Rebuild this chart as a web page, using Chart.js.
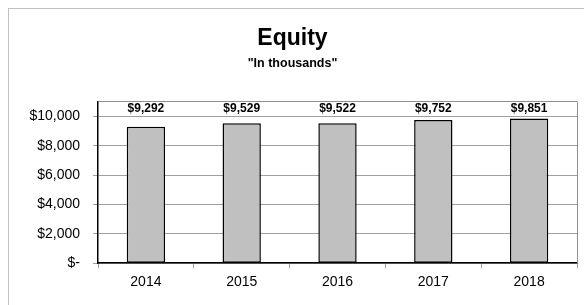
<!DOCTYPE html>
<html>
<head>
<meta charset="utf-8">
<script src="https://cdn.jsdelivr.net/npm/chart.js@4.4.6/dist/chart.umd.min.js"></script>
<style>
  html, body { margin: 0; padding: 0; background: #fff; }
  canvas { display: block; }
</style>
</head>
<body>
<canvas id="equity" width="584" height="305"></canvas>
<script>
/* data */
const years = ["2014", "2015", "2016", "2017", "2018"];
const equity = [9292, 9529, 9522, 9752, 9851];
const yTicks = [0, 2000, 4000, 6000, 8000, 10000];

const fmt = v => v === 0 ? "$-" : "$" + v.toLocaleString("en-US");
const FONT = "'Liberation Sans', Arial, sans-serif";

// grey frame round the whole chart (only top/left show in the picture)
const frame = {
  id: "frame",
  beforeDraw(chart) {
    const c = chart.ctx;
    c.save();
    c.fillStyle = "#fff";
    c.fillRect(0, 0, chart.width, chart.height);
    c.strokeStyle = "#c0c0c0";
    c.lineWidth = 1;
    c.strokeRect(8.5, 8.5, chart.width, chart.height);
    c.restore();
  },
  afterDraw(chart) {
    // right edge of the plot box
    const a = chart.chartArea, c = chart.ctx;
    c.save();
    c.strokeStyle = "#909090";
    c.lineWidth = 1;
    c.beginPath();
    c.moveTo(Math.round(a.right) + 0.5, a.top);
    c.lineTo(Math.round(a.right) + 0.5, a.bottom);
    c.stroke();
    c.restore();
  }
};

// value labels sit in a row along the top of the plot
const topLabels = {
  id: "topLabels",
  afterDatasetsDraw(chart) {
    const c = chart.ctx, meta = chart.getDatasetMeta(0);
    c.save();
    c.font = "bold 12px " + FONT;
    c.fillStyle = "#000";
    c.textAlign = "center";
    c.textBaseline = "middle";
    meta.data.forEach((bar, i) => {
      c.fillText(fmt(equity[i]), bar.x, chart.chartArea.top + 7.5);
    });
    c.restore();
  }
};

new Chart(document.getElementById("equity"), {
  type: "bar",
  data: {
    labels: years,
    datasets: [{
      data: equity,
      backgroundColor: "#c0c0c0",
      borderColor: "#000",
      borderWidth: 1.5,
      borderSkipped: false,
      categoryPercentage: 0.8,
      barPercentage: 0.5
    }]
  },
  options: {
    responsive: false,
    animation: false,
    events: [],
    layout: { padding: { top: 14, left: 8, right: 7, bottom: 8 } },
    plugins: {
      legend: { display: false },
      tooltip: { enabled: false },
      title: {
        display: true,
        text: "Equity",
        color: "#000",
        font: { family: FONT, size: 23, weight: "bold" },
        padding: { top: 11, bottom: 3 }
      },
      subtitle: {
        display: true,
        text: '"In thousands"',
        color: "#000",
        font: { family: FONT, size: 12.5, weight: "bold" },
        padding: { top: 0, bottom: 31 }
      }
    },
    scales: {
      x: {
        grid: { drawOnChartArea: false, color: "#a0a0a0", tickLength: 5 },
        border: { color: "#000", width: 1.5 },
        ticks: {
          color: "#000",
          padding: 6,
          font: { family: FONT, size: 14 }
        }
      },
      y: {
        min: 0,
        max: 11000,
        afterFit(scale) { scale.width = 90; },
        afterBuildTicks(scale) {
          scale.ticks = yTicks.concat([11000]).map(v => ({ value: v }));
        },
        grid: {
          color: ctx => ctx.tick && ctx.tick.value === 11000 ? "#909090" : "#a0a0a0",
          tickColor: ctx => ctx.tick && ctx.tick.value === 11000 ? "rgba(0,0,0,0)" : "#a0a0a0",
          tickLength: 5
        },
        border: { color: "#000", width: 1.5 },
        ticks: {
          color: "#000",
          padding: 13,
          font: { family: FONT, size: 14 },
          callback: v => v === 11000 ? "" : fmt(v)
        }
      }
    }
  },
  plugins: [frame, topLabels]
});
</script>
</body>
</html>
